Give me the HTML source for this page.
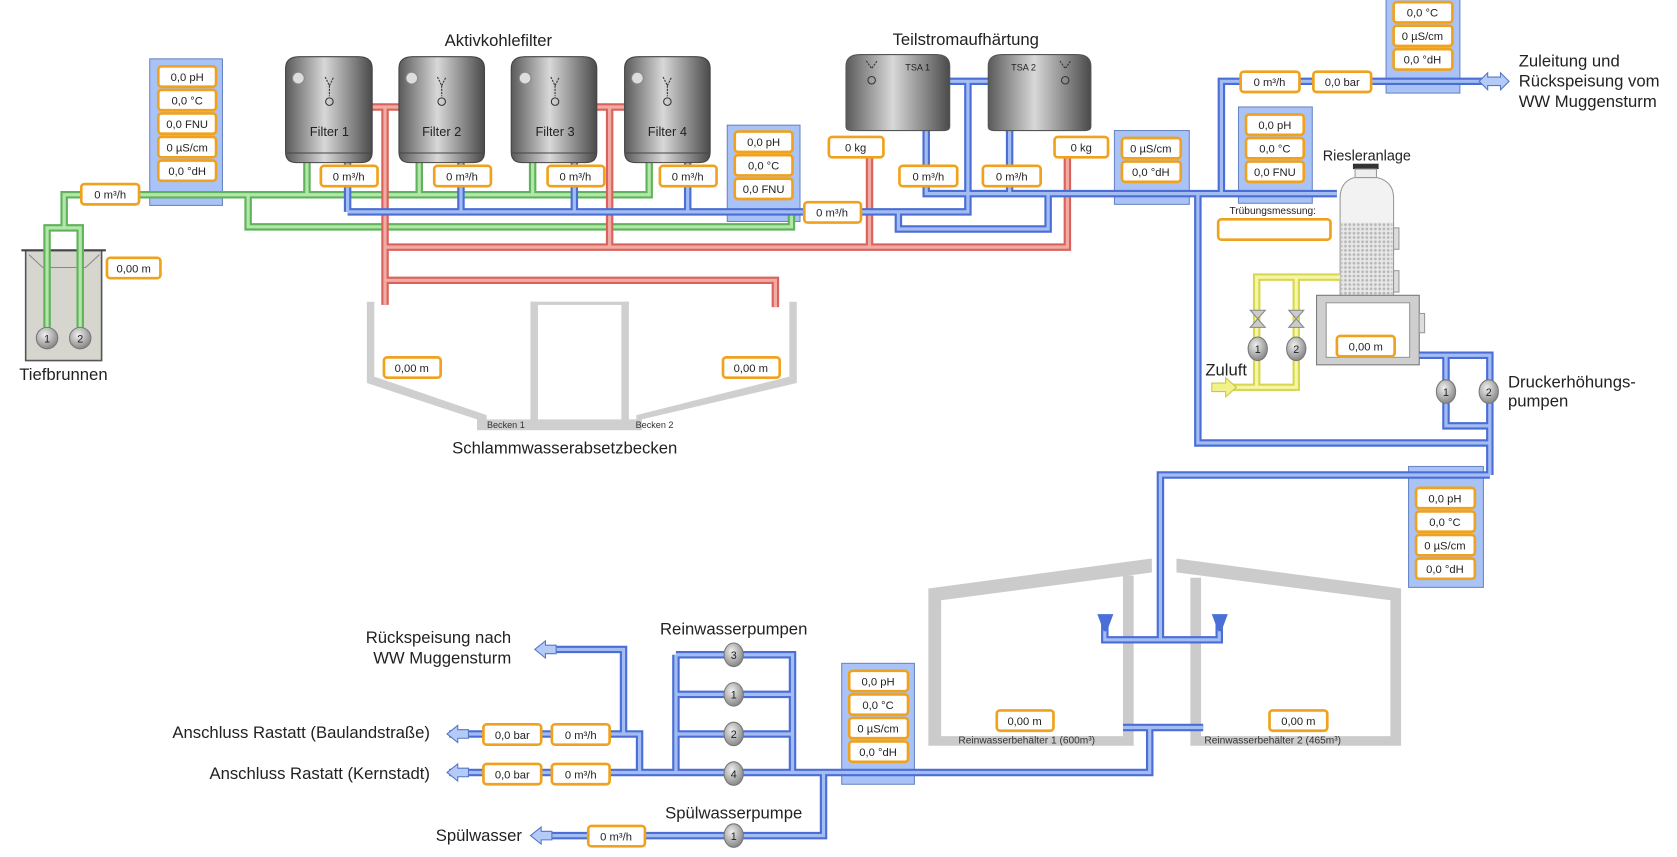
<!DOCTYPE html>
<html><head><meta charset="utf-8"><style>
html,body{margin:0;padding:0;background:#fff;width:1677px;height:857px;overflow:hidden}
svg{display:block}
text{font-family:"Liberation Sans",Arial,sans-serif;fill:#222}
.v rect{fill:#fff;stroke:#f0a21e;stroke-width:2.5}
.v text{font-size:10.5px;text-anchor:middle}
.l{font-size:15.6px}
.s{font-size:8.5px;fill:#333}
.sp{fill:#a9c3f7;stroke:#6a86c4;stroke-width:1}
</style></head><body>
<svg width="1677" height="857" viewBox="0 0 1568 801" preserveAspectRatio="none" xmlns="http://www.w3.org/2000/svg">
<defs>
<linearGradient id="tk" x1="0" x2="1" y1="0" y2="0">
<stop offset="0" stop-color="#5a5a5a"/><stop offset="0.45" stop-color="#d8d8d8"/><stop offset="1" stop-color="#4a4a4a"/></linearGradient>
<radialGradient id="pm" cx="0.4" cy="0.35" r="0.7"><stop offset="0" stop-color="#f0f0f0"/><stop offset="1" stop-color="#808080"/></radialGradient>
<pattern id="mesh" width="4" height="4" patternUnits="userSpaceOnUse"><rect width="4" height="4" fill="#e8e8e8"/><circle cx="2" cy="2" r="1.3" fill="#b8b8b8"/></pattern>
<g id="bp" fill="none">
<path d="M325 150V198M431 150V198M537 150V198M643 150V198M325 198H905V76M888 76H924M840 198V214H980V181M866 121V181H1250M944 121V181M1120 181V414H1394M1142 181V76H1392M1327 332H1393V444M1352 332V398H1393M1393 444H1085V598M1033 582V598H1140V582M1075 680V722H420M1050 680H1125M632 612H741V723M632 612V723M632 649H741M632 686H741M770 722V781H515M420 686H598V722M583 686V607H515"/>
</g>
<g id="gp" fill="none"><path d="M44 306V213H75V306M60 213V182H607V150M287 150V182M392 150V182M498 150V182M232 182V212H740V198"/></g>
<g id="rp" fill="none"><path d="M348 100H373M360 100V285M558 100H584M570 100V231M360 231H998V135M813 135V231M360 262H725V287"/></g>
<g id="yp" fill="none"><path d="M1253 259H1175V362H1150M1212 259V362H1175"/></g>
</defs>

<rect class="sp" x="140" y="55" width="68" height="137"/>
<rect class="sp" x="680" y="117" width="68" height="90"/>
<rect class="sp" x="1042" y="122" width="70" height="69"/>
<rect class="sp" x="1158" y="100" width="69" height="90"/>
<rect class="sp" x="1296" y="-2" width="69" height="89"/>
<rect class="sp" x="1317" y="436" width="70" height="113"/>
<rect class="sp" x="787" y="620" width="68" height="113"/>

<rect x="24" y="234" width="71" height="103" fill="#d6d6cf" stroke="#555" stroke-width="1.5"/>
<line x1="20" y1="234" x2="99" y2="234" stroke="#444" stroke-width="2"/>
<path d="M27 238 L40 250 H80 L93 238" fill="none" stroke="#888" stroke-width="1"/>

<g fill="#cfcfcf">
<polygon points="343,282 350,282 350,352 455,388 455,395 600,395 600,402 446,402 446,392 343,358"/>
<polygon points="745,282 738,282 738,352 595,388 595,402 600,402 600,392 745,358"/>
<rect x="496" y="282" width="7" height="113"/><rect x="581" y="282" width="7" height="113"/>
<rect x="496" y="282" width="92" height="3"/>
<rect x="446" y="392" width="154" height="10"/>
</g>
<text class="s" x="473" y="400" text-anchor="middle">Becken 1</text>
<text class="s" x="612" y="400" text-anchor="middle">Becken 2</text>
<text class="l" x="528" y="424" text-anchor="middle">Schlammwasserabsetzbecken</text>

<g fill="#cbcbcb">
<polygon points="868,550 1077,522 1077,535 880,561 880,688 1050,688 1050,538 1060,538 1060,697 868,697"/>
<polygon points="1100,522 1310,550 1310,697 1113,697 1113,540 1123,540 1123,688 1300,688 1300,561 1100,535"/>
</g>
<text class="s" x="960" y="695" text-anchor="middle" style="font-size:9.5px">Reinwasserbehälter 1 (600m³)</text>
<text class="s" x="1190" y="695" text-anchor="middle" style="font-size:9.5px">Reinwasserbehälter 2 (465m³)</text>

<rect x="1265" y="153" width="24" height="5" fill="#333"/>
<rect x="1267" y="158" width="20" height="8" fill="#eee" stroke="#999"/>
<path d="M1253 185 Q1253 170 1266 166 H1288 Q1303 170 1303 185 V276 H1253Z" fill="#f2f2f2" stroke="#999"/>
<rect x="1254" y="208" width="48" height="68" fill="url(#mesh)"/>
<rect x="1303" y="213" width="5" height="20" fill="#ddd" stroke="#999"/>
<rect x="1303" y="253" width="5" height="20" fill="#ddd" stroke="#999"/>
<rect x="1231" y="276" width="96" height="65" fill="#cfcfcf" stroke="#777"/>
<rect x="1240" y="283" width="78" height="51" fill="#fff" stroke="#999"/>
<rect x="1327" y="293" width="5" height="18" fill="#ddd" stroke="#999"/>

<use href="#gp" stroke="#5fb35a" stroke-width="7"/><use href="#gp" stroke="#b4e6ac" stroke-width="3"/>
<use href="#rp" stroke="#d9625a" stroke-width="7"/><use href="#rp" stroke="#f2aaa4" stroke-width="3"/>
<use href="#yp" stroke="#d8d850" stroke-width="7"/><use href="#yp" stroke="#f6f6a8" stroke-width="3"/>
<use href="#bp" stroke="#4a6ed6" stroke-width="7"/><use href="#bp" stroke="#a3bdf3" stroke-width="3"/>

<g fill="#b4cbf8" stroke="#5577c8" stroke-width="1">
<polygon points="500,607 510,599 510,603 520,603 520,611 510,611 510,615"/>
<polygon points="418,686 428,678 428,682 438,682 438,690 428,690 428,694"/>
<polygon points="418,722 428,714 428,718 438,718 438,726 428,726 428,730"/>
<polygon points="496,781 506,773 506,777 516,777 516,785 506,785 506,789"/>
<polygon points="1383,76 1391,68 1391,72 1403,72 1403,68 1411,76 1403,84 1403,80 1391,80 1391,84"/>
</g>
<polygon points="1133,358 1146,358 1146,353 1156,362 1146,371 1146,366 1133,366" fill="#f2f28a" stroke="#c8c84a"/>
<polygon points="1026,574 1041,574 1035,590 1032,590" fill="#4a6fd8"/>
<polygon points="1133,574 1148,574 1142,590 1139,590" fill="#4a6fd8"/>

<g>
<path d="M267 64 Q267 53 280 53 H335 Q348 53 348 64 V142 Q348 152 338 152 H277 Q267 152 267 142Z" fill="url(#tk)" stroke="#444"/>
<path d="M373 64 Q373 53 386 53 H440 Q453 53 453 64 V142 Q453 152 443 152 H383 Q373 152 373 142Z" fill="url(#tk)" stroke="#444"/>
<path d="M478 64 Q478 53 491 53 H545 Q558 53 558 64 V142 Q558 152 548 152 H488 Q478 152 478 142Z" fill="url(#tk)" stroke="#444"/>
<path d="M584 64 Q584 53 597 53 H651 Q664 53 664 64 V142 Q664 152 654 152 H594 Q584 152 584 142Z" fill="url(#tk)" stroke="#444"/>
<g stroke="#444" stroke-width="1"><line x1="268" y1="143" x2="347" y2="143"/><line x1="374" y1="143" x2="452" y2="143"/><line x1="479" y1="143" x2="557" y2="143"/><line x1="585" y1="143" x2="663" y2="143"/></g>
<g fill="#ddd" stroke="#888"><circle cx="279" cy="73" r="5.5"/><circle cx="385" cy="73" r="5.5"/><circle cx="491" cy="73" r="5.5"/><circle cx="596" cy="73" r="5.5"/></g>
<g fill="none" stroke="#333" stroke-width="1"><circle cx="308" cy="95" r="3.5"/><circle cx="413" cy="95" r="3.5"/><circle cx="519" cy="95" r="3.5"/><circle cx="624" cy="95" r="3.5"/>
<path d="M304 72 L308 80 L312 72M308 80V90M409 72 L413 80 L417 72M413 80V90M515 72 L519 80 L523 72M519 80V90M620 72 L624 80 L628 72M624 80V90" stroke-dasharray="2,1"/></g>
<g style="font-size:12px" text-anchor="middle"><text x="308" y="127">Filter 1</text><text x="413" y="127">Filter 2</text><text x="519" y="127">Filter 3</text><text x="624" y="127">Filter 4</text></g>
<text class="l" x="466" y="43" text-anchor="middle">Aktivkohlefilter</text>
</g>
<path d="M791 62 Q791 51 804 51 H875 Q888 51 888 62 V118 Q888 122 883 122 H796 Q791 122 791 118Z" fill="url(#tk)" stroke="#555"/>
<path d="M924 62 Q924 51 937 51 H1007 Q1020 51 1020 62 V118 Q1020 122 1015 122 H929 Q924 122 924 118Z" fill="url(#tk)" stroke="#555"/>
<g fill="none" stroke="#333"><circle cx="815" cy="75" r="3.5"/><circle cx="996" cy="75" r="3.5"/><path d="M810 57 L815 64 L820 57M991 57 L996 64 L1001 57" stroke-dasharray="2,1"/></g>
<text x="858" y="66" style="font-size:8.5px" text-anchor="middle">TSA 1</text>
<text x="957" y="66" style="font-size:8.5px" text-anchor="middle">TSA 2</text>
<text class="l" x="903" y="42" text-anchor="middle">Teilstromaufhärtung</text>

<g fill="url(#pm)" stroke="#777">
<circle cx="44" cy="316" r="10"/><circle cx="75" cy="316" r="10"/>
<ellipse cx="1176" cy="326" rx="9" ry="11"/><ellipse cx="1212" cy="326" rx="9" ry="11"/>
<ellipse cx="1352" cy="366" rx="9" ry="11"/><ellipse cx="1392" cy="366" rx="9" ry="11"/>
<ellipse cx="686" cy="612" rx="9" ry="11"/><ellipse cx="686" cy="649" rx="9" ry="11"/><ellipse cx="686" cy="686" rx="9" ry="11"/><ellipse cx="686" cy="723" rx="9" ry="11"/><ellipse cx="686" cy="781" rx="9" ry="11"/>
</g>
<g style="font-size:10px" text-anchor="middle">
<text x="44" y="320">1</text><text x="75" y="320">2</text><text x="1176" y="330">1</text><text x="1212" y="330">2</text>
<text x="1352" y="370">1</text><text x="1392" y="370">2</text>
<text x="686" y="616">3</text><text x="686" y="653">1</text><text x="686" y="690">2</text><text x="686" y="727">4</text><text x="686" y="785">1</text>
</g>
<g fill="#ccc" stroke="#888"><polygon points="1169,290 1183,290 1169,306 1183,306"/><polygon points="1205,290 1219,290 1205,306 1219,306"/></g>

<text class="l" x="18" y="355">Tiefbrunnen</text>
<text class="l" x="1278" y="150" text-anchor="middle" style="font-size:13.5px">Riesleranlage</text>
<text x="1190" y="200" text-anchor="middle" style="font-size:9.5px">Trübungsmessung:</text>
<text class="l" x="1127" y="351">Zuluft</text>
<text class="l" x="1410" y="362">Druckerhöhungs-</text><text class="l" x="1410" y="380">pumpen</text>
<text class="l" x="1420" y="62">Zuleitung und</text><text class="l" x="1420" y="81">Rückspeisung vom</text><text class="l" x="1420" y="100">WW Muggensturm</text>
<text class="l" x="686" y="593" text-anchor="middle">Reinwasserpumpen</text>
<text class="l" x="686" y="765" text-anchor="middle">Spülwasserpumpe</text>
<text class="l" x="478" y="601" text-anchor="end">Rückspeisung nach</text><text class="l" x="478" y="620" text-anchor="end">WW Muggensturm</text>
<text class="l" x="402" y="690" text-anchor="end">Anschluss Rastatt (Baulandstraße)</text>
<text class="l" x="402" y="728" text-anchor="end">Anschluss Rastatt (Kernstadt)</text>
<text class="l" x="488" y="786" text-anchor="end">Spülwasser</text>

<g class="v">
<rect x="148" y="62" width="54" height="19" rx="3"/><text x="175" y="75.5">0,0 pH</text>
<rect x="148" y="84" width="54" height="19" rx="3"/><text x="175" y="97.5">0,0 °C</text>
<rect x="148" y="106" width="54" height="19" rx="3"/><text x="175" y="119.5">0,0 FNU</text>
<rect x="148" y="128" width="54" height="19" rx="3"/><text x="175" y="141.5">0 µS/cm</text>
<rect x="148" y="150" width="54" height="19" rx="3"/><text x="175" y="163.5">0,0 °dH</text>
<rect x="76" y="172" width="54" height="19" rx="3"/><text x="103" y="185.5">0 m³/h</text>
<rect x="100" y="241" width="50" height="19" rx="3"/><text x="125" y="254.5">0,00 m</text>
<rect x="300" y="155" width="53" height="19" rx="3"/><text x="326" y="168.5">0 m³/h</text>
<rect x="406" y="155" width="53" height="19" rx="3"/><text x="432" y="168.5">0 m³/h</text>
<rect x="512" y="155" width="53" height="19" rx="3"/><text x="538" y="168.5">0 m³/h</text>
<rect x="617" y="155" width="53" height="19" rx="3"/><text x="643" y="168.5">0 m³/h</text>
<rect x="687" y="123" width="54" height="19" rx="3"/><text x="714" y="136.5">0,0 pH</text>
<rect x="687" y="145" width="54" height="19" rx="3"/><text x="714" y="158.5">0,0 °C</text>
<rect x="687" y="167" width="54" height="19" rx="3"/><text x="714" y="180.5">0,0 FNU</text>
<rect x="752" y="189" width="53" height="19" rx="3"/><text x="778" y="202.5">0 m³/h</text>
<rect x="775" y="128" width="51" height="19" rx="3"/><text x="800" y="141.5">0 kg</text>
<rect x="986" y="128" width="50" height="19" rx="3"/><text x="1011" y="141.5">0 kg</text>
<rect x="841" y="155" width="54" height="19" rx="3"/><text x="868" y="168.5">0 m³/h</text>
<rect x="919" y="155" width="54" height="19" rx="3"/><text x="946" y="168.5">0 m³/h</text>
<rect x="1049" y="129" width="55" height="19" rx="3"/><text x="1076" y="142.5">0 µS/cm</text>
<rect x="1049" y="151" width="55" height="19" rx="3"/><text x="1076" y="164.5">0,0 °dH</text>
<rect x="1165" y="107" width="54" height="19" rx="3"/><text x="1192" y="120.5">0,0 pH</text>
<rect x="1165" y="129" width="54" height="19" rx="3"/><text x="1192" y="142.5">0,0 °C</text>
<rect x="1165" y="151" width="54" height="19" rx="3"/><text x="1192" y="164.5">0,0 FNU</text>
<rect x="1139" y="205" width="105" height="19" rx="3"/>
<rect x="1160" y="67" width="55" height="19" rx="3"/><text x="1187" y="80.5">0 m³/h</text>
<rect x="1228" y="67" width="54" height="19" rx="3"/><text x="1255" y="80.5">0,0 bar</text>
<rect x="1303" y="2" width="55" height="19" rx="3"/><text x="1330" y="15.5">0,0 °C</text>
<rect x="1303" y="24" width="55" height="19" rx="3"/><text x="1330" y="37.5">0 µS/cm</text>
<rect x="1303" y="46" width="55" height="19" rx="3"/><text x="1330" y="59.5">0,0 °dH</text>
<rect x="1250" y="314" width="54" height="19" rx="3"/><text x="1277" y="327.5">0,00 m</text>
<rect x="359" y="334" width="53" height="19" rx="3"/><text x="385" y="347.5">0,00 m</text>
<rect x="676" y="334" width="53" height="19" rx="3"/><text x="702" y="347.5">0,00 m</text>
<rect x="1324" y="456" width="55" height="19" rx="3"/><text x="1351" y="469.5">0,0 pH</text>
<rect x="1324" y="478" width="55" height="19" rx="3"/><text x="1351" y="491.5">0,0 °C</text>
<rect x="1324" y="500" width="55" height="19" rx="3"/><text x="1351" y="513.5">0 µS/cm</text>
<rect x="1324" y="522" width="55" height="19" rx="3"/><text x="1351" y="535.5">0,0 °dH</text>
<rect x="932" y="664" width="53" height="19" rx="3"/><text x="958" y="677.5">0,00 m</text>
<rect x="1187" y="664" width="54" height="19" rx="3"/><text x="1214" y="677.5">0,00 m</text>
<rect x="794" y="627" width="55" height="19" rx="3"/><text x="821" y="640.5">0,0 pH</text>
<rect x="794" y="649" width="55" height="19" rx="3"/><text x="821" y="662.5">0,0 °C</text>
<rect x="794" y="671" width="55" height="19" rx="3"/><text x="821" y="684.5">0 µS/cm</text>
<rect x="794" y="693" width="55" height="19" rx="3"/><text x="821" y="706.5">0,0 °dH</text>
<rect x="452" y="677" width="54" height="19" rx="3"/><text x="479" y="690.5">0,0 bar</text>
<rect x="516" y="677" width="54" height="19" rx="3"/><text x="543" y="690.5">0 m³/h</text>
<rect x="452" y="714" width="54" height="19" rx="3"/><text x="479" y="727.5">0,0 bar</text>
<rect x="516" y="714" width="54" height="19" rx="3"/><text x="543" y="727.5">0 m³/h</text>
<rect x="550" y="772" width="53" height="19" rx="3"/><text x="576" y="785.5">0 m³/h</text>
</g>
</svg>
</body></html>
